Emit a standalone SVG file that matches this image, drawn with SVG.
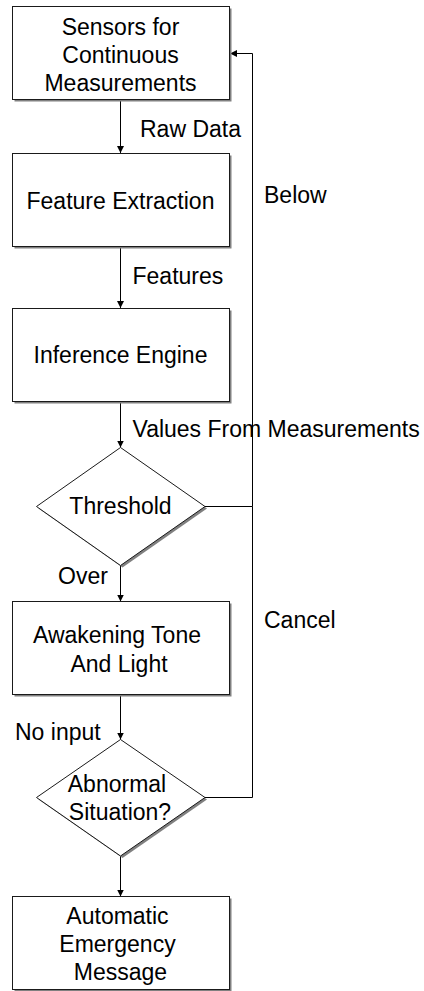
<svg xmlns="http://www.w3.org/2000/svg" width="424" height="991" viewBox="0 0 424 991">
  <style>
    .box { fill: #ffffff; stroke: #1a1a1a; stroke-width: 1; }
    .shadow { fill: #808080; stroke: none; }
    .txt { font-family: "Liberation Sans", Arial, sans-serif; font-size: 23px; fill: #000000; }
    .mid { text-anchor: middle; }
    .line { fill: none; stroke: #000000; stroke-width: 1; }
  </style>
  <defs>
    <marker id="arrow" markerUnits="userSpaceOnUse" markerWidth="7" markerHeight="7" refX="7" refY="3.5" orient="auto">
      <path d="M0,0 L7,3.5 L0,7 z" fill="#000000"/>
    </marker>
  </defs>

  <rect width="424" height="991" fill="#ffffff"/>

  <!-- connectors -->
  <g id="connectors">
    <line class="line" x1="120.5" y1="100" x2="120.5" y2="153" marker-end="url(#arrow)"/>
    <line class="line" x1="120.5" y1="247" x2="120.5" y2="308" marker-end="url(#arrow)"/>
    <line class="line" x1="120.5" y1="402" x2="120.5" y2="447.5" marker-end="url(#arrow)"/>
    <line class="line" x1="120.5" y1="565.5" x2="120.5" y2="601.5" marker-end="url(#arrow)"/>
    <line class="line" x1="120.5" y1="695" x2="120.5" y2="739.5" marker-end="url(#arrow)"/>
    <line class="line" x1="120.5" y1="856" x2="120.5" y2="896.5" marker-end="url(#arrow)"/>
    <polyline class="line" points="205,506.5 252.5,506.5 252.5,53.5 230,53.5" marker-end="url(#arrow)"/>
    <polyline class="line" points="205,797.5 252.5,797.5 252.5,506.5"/>
  </g>

  <!-- connector labels -->
  <g id="labels">
    <text class="txt" x="140" y="137">Raw Data</text>
    <text class="txt" x="264" y="203">Below</text>
    <text class="txt" x="132.5" y="284">Features</text>
    <text class="txt" x="132.5" y="437">Values From Measurements</text>
    <text class="txt" x="58" y="584">Over</text>
    <text class="txt" x="264" y="628">Cancel</text>
    <text class="txt" x="15" y="740">No input</text>
  </g>

  <g id="sensors">
    <rect class="shadow" x="14.5" y="8.5" width="217" height="93"/>
    <rect class="box" x="12.5" y="6.5" width="217" height="93"/>
    <text class="txt mid" x="120.5" y="35">Sensors for</text>
    <text class="txt mid" x="120.5" y="63">Continuous</text>
    <text class="txt mid" x="120.5" y="91">Measurements</text>
  </g>

  <g id="feature-extraction">
    <rect class="shadow" x="14.5" y="155.5" width="217" height="93"/>
    <rect class="box" x="12.5" y="153.5" width="217" height="93"/>
    <text class="txt mid" x="120.5" y="209">Feature Extraction</text>
  </g>

  <g id="inference-engine">
    <rect class="shadow" x="14.5" y="310.5" width="217" height="93"/>
    <rect class="box" x="12.5" y="308.5" width="217" height="93"/>
    <text class="txt mid" x="120.5" y="363">Inference Engine</text>
  </g>

  <g id="threshold">
    <polygon class="shadow" points="122.5,449.5 207,508.5 122.5,567.5 38.5,508.5"/>
    <polygon class="box" points="120.5,447.5 205,506.5 120.5,565.5 36.5,506.5"/>
    <text class="txt mid" x="120.5" y="514">Threshold</text>
  </g>

  <g id="awakening">
    <rect class="shadow" x="14.5" y="603.5" width="217" height="93"/>
    <rect class="box" x="12.5" y="601.5" width="217" height="93"/>
    <text class="txt mid" x="117" y="643">Awakening Tone</text>
    <text class="txt mid" x="119" y="671.5">And Light</text>
  </g>

  <g id="abnormal">
    <polygon class="shadow" points="122.5,741.5 207,799.5 122.5,858 38.5,799.5"/>
    <polygon class="box" points="120.5,739.5 205,797.5 120.5,856 36.5,797.5"/>
    <text class="txt mid" x="117" y="791.5">Abnormal</text>
    <text class="txt mid" x="120" y="819.5">Situation?</text>
  </g>

  <g id="emergency">
    <rect class="shadow" x="14.5" y="898.5" width="217" height="93"/>
    <rect class="box" x="12.5" y="896.5" width="217" height="93"/>
    <text class="txt mid" x="117.5" y="923.5">Automatic</text>
    <text class="txt mid" x="117.5" y="951.5">Emergency</text>
    <text class="txt mid" x="120.5" y="979.5">Message</text>
  </g>
</svg>
